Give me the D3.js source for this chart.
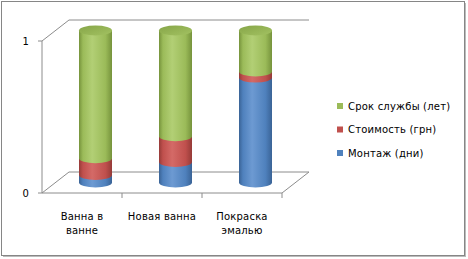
<!DOCTYPE html>
<html>
<head>
<meta charset="utf-8">
<script src="https://cdn.jsdelivr.net/npm/d3@7"></script>
<style>
  body { margin: 0; background: #fff; }
  text { font-family: "DejaVu Sans", sans-serif; font-size: 10px; fill: #000; letter-spacing: 0.2px; }
</style>
</head>
<body>
<div id="chart"></div>
<script>
// categories and stacked shares (100% stacked)
var categories = ["Ванна в ванне", "Новая ванна", "Покраска эмалью"];
var catLines = [["Ванна в", "ванне"], ["Новая ванна"], ["Покраска", "эмалью"]];
var seriesNames = ["Монтаж (дни)", "Стоимость (грн)", "Срок службы (лет)"];
var montazh = [0.05, 0.135, 0.69];
var stoimost = [0.11, 0.17, 0.04];
var srok = [0.84, 0.695, 0.27];
var yTicks = [0, 1];

var colors = ["#4F81BD", "#C0504D", "#9BBB59"];
var dark = ["#3a6396", "#963b38", "#76933c"];
var light = ["#6d9ad2", "#d46a67", "#b2cf75"];

var svgWidth = 468, svgHeight = 259;

var svg = d3.select("#chart").append("svg")
  .attr("width", svgWidth)
  .attr("height", svgHeight);

// outer border with a little shadow
svg.append("rect").attr("x", 3).attr("y", 3).attr("width", 463).attr("height", 254)
  .attr("fill", "#bbb");
svg.append("rect").attr("x", 1.5).attr("y", 1.5).attr("width", 463).attr("height", 254)
  .attr("fill", "#fff").attr("stroke", "#868686");

// front plane scales
var x = d3.scaleBand().domain(categories).range([42, 282]);
var y = d3.scaleLinear().domain([0, 1]).range([193, 41]);
var dx = 27, dy = -21; // depth offset

var grid = svg.append("g").attr("stroke", "#8c8c8c").attr("fill", "none");
// left wall
grid.append("line").attr("x1", 42).attr("y1", y(1)).attr("x2", 42).attr("y2", y(0));
yTicks.forEach(function(t) {
  grid.append("line").attr("x1", 42).attr("y1", y(t)).attr("x2", 42 + dx).attr("y2", y(t) + dy);
  grid.append("line").attr("x1", 42 + dx).attr("y1", y(t) + dy).attr("x2", 282 + dx).attr("y2", y(t) + dy);
  grid.append("line").attr("x1", 38).attr("y1", y(t)).attr("x2", 42).attr("y2", y(t));
});
// floor
grid.append("line").attr("x1", 42).attr("y1", y(0)).attr("x2", 282).attr("y2", y(0));
grid.append("line").attr("x1", 282).attr("y1", y(0)).attr("x2", 282 + dx).attr("y2", y(0) + dy);
categories.forEach(function(c) {
  var xx = x(c) + x.bandwidth();
  grid.append("line").attr("x1", xx).attr("y1", y(0)).attr("x2", xx).attr("y2", y(0) + 5);
});

// y labels
svg.selectAll(".ylab").data(yTicks).enter().append("text")
  .attr("x", 29).attr("y", d => y(d)).attr("dy", "0.35em")
  .attr("text-anchor", "end").text(d => d);

// x labels
categories.forEach(function(c, i) {
  var t = svg.append("text").attr("text-anchor", "middle")
    .attr("x", x(c) + x.bandwidth() / 2).attr("y", 220);
  catLines[i].forEach(function(l, j) {
    t.append("tspan").attr("x", x(c) + x.bandwidth() / 2).attr("dy", j ? 14 : 0).text(l);
  });
});

// gradients
var defs = svg.append("defs");
colors.forEach(function(col, k) {
  var g = defs.append("linearGradient").attr("id", "g" + k)
    .attr("x1", "0%").attr("x2", "100%").attr("y1", "0%").attr("y2", "0%");
  g.append("stop").attr("offset", "0%").attr("stop-color", dark[k]);
  g.append("stop").attr("offset", "12%").attr("stop-color", col);
  g.append("stop").attr("offset", "40%").attr("stop-color", light[k]);
  g.append("stop").attr("offset", "80%").attr("stop-color", col);
  g.append("stop").attr("offset", "100%").attr("stop-color", dark[k]);
});
var tg = defs.append("linearGradient").attr("id", "gtop")
  .attr("x1", "0%").attr("x2", "100%").attr("y1", "0%").attr("y2", "100%");
tg.append("stop").attr("offset", "0%").attr("stop-color", "#86a548");
tg.append("stop").attr("offset", "100%").attr("stop-color", "#a3c262");

// cylinders
var series = [montazh, stoimost, srok];
var rw = 16.5, ry = 5;

categories.forEach(function(c, i) {
  var cx = x(c) + x.bandwidth() / 2 + dx / 2;
  var base = 0;
  var segs = series.map(function(s, k) {
    var seg = { k: k, v0: base, v1: base + s[i] };
    base += s[i];
    return seg;
  });
  segs.forEach(function(seg) {
    var yb = y(seg.v0) + dy / 2, yt = y(seg.v1) + dy / 2;
    var p = "M" + (cx - rw) + "," + yt +
      "L" + (cx - rw) + "," + yb +
      "A" + rw + "," + ry + " 0 0 0 " + (cx + rw) + "," + yb +
      "L" + (cx + rw) + "," + yt + "Z";
    svg.append("path").attr("d", p).attr("fill", "url(#g" + seg.k + ")");
  });
  var top = segs[segs.length - 1];
  svg.append("ellipse").attr("cx", cx).attr("cy", y(top.v1) + dy / 2)
    .attr("rx", rw).attr("ry", ry).attr("fill", "url(#gtop)");
});

// legend
var legend = svg.append("g");
var order = [2, 1, 0];
order.forEach(function(k, j) {
  var ly = 106 + j * 23.5;
  legend.append("rect").attr("x", 337).attr("y", ly - 3).attr("width", 6).attr("height", 6)
    .attr("fill", colors[k]);
  legend.append("text").attr("x", 348).attr("y", ly).attr("dy", "0.35em").text(seriesNames[k]);
});
</script>
</body>
</html>
